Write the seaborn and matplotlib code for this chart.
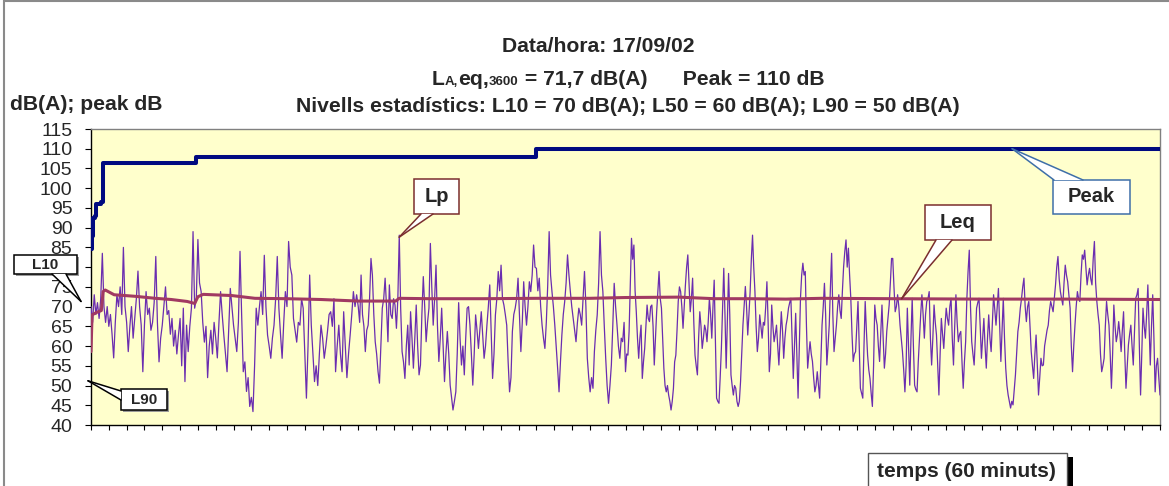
import numpy as np
import pandas as pd
import matplotlib
matplotlib.use("Agg")
import matplotlib.pyplot as plt
import seaborn as sns
from matplotlib.patches import Rectangle, Polygon
from matplotlib.lines import Line2D
from matplotlib.transforms import IdentityTransform

# ---------------- data ----------------
# Lp readings, one list per quarter hour (dB(A))
lp_q1 = [70, 66, 73, 68, 71, 67, 72, 83.5, 70, 66, 70, 65, 68, 63, 57, 66, 73, 70, 75, 68, 85, 70, 66, 58.6, 65,
         70, 62, 67, 72, 79, 70, 65.3, 53.5, 65.3, 73.8, 68, 69.6, 64, 66, 71, 82.7, 66, 56, 62, 65.3, 70, 75, 68,
         69, 63, 67, 60, 64, 58, 62.8, 67, 55, 69.6, 51, 65.3, 58.6, 65, 69.6, 89, 69.6, 72, 87, 76, 73.8, 66, 61,
         65, 52, 60, 64, 58, 66, 62, 57, 66, 73.8, 68, 62.8, 58, 53.5, 64, 74.6, 70, 65.3, 62, 58.6, 66, 84, 68,
         53.5, 56, 48.5, 52, 44.7, 47, 43.4, 55, 69.6, 65.3, 70, 73.8, 68, 83, 70, 62.8, 60, 56.9, 62, 65.3, 72,
         82.7, 69.6, 63, 56.9, 66, 73.8, 70, 86.5, 80, 78, 67, 64, 61, 66, 65.3, 72, 69.6, 58, 46.8, 60, 78, 65.3,
         58, 51, 55, 50, 58, 65.3, 62, 56.9, 60, 63.7, 68, 68.7, 65, 72, 53.5, 60, 65.3, 58, 53.5, 68.7, 60, 52, 58,
         62.8, 68, 73.8, 70, 73]
lp_q2 = [70, 66, 78, 68, 65, 58.6, 64, 65.3, 72, 82.2, 78, 68, 61.1, 58, 53.5, 50.6, 60, 69.6, 72, 77.2, 70, 61.1,
         75.5, 68, 67, 72, 70.4, 64.5, 72, 88.1, 69.6, 58.6, 56, 51.8, 60, 65.3, 55.2, 68.7, 62, 54.4, 62, 70.4, 60,
         52.7, 55.2, 68, 77.6, 70, 61.1, 66, 69.6, 86, 75, 65.3, 72, 80.5, 65.3, 56.1, 62, 69.6, 60, 51, 58, 63.7,
         58, 50.1, 47, 43.8, 46, 48.4, 58, 71, 62, 55.2, 60, 52.7, 62, 69.6, 70, 65.3, 58, 50.1, 58, 67.9, 64, 59.4,
         64, 68.7, 63, 56.9, 60, 65.3, 70, 75.5, 64, 51.8, 58, 67.9, 72, 78.9, 74, 80.5, 72, 70.4, 68, 65.3, 56,
         48.4, 52, 63.7, 68, 69.6, 72, 77.2, 68, 58.6, 66, 76.3, 70, 65.3, 70, 76.3, 73.8, 78, 85.6, 80, 79.7, 74,
         77.2, 70, 65.3, 62, 59.4, 66, 75.5, 89, 78, 73.8, 70, 65.3, 60, 54.4, 48.4, 56, 62.8, 68, 71.3, 76, 83.1,
         78, 73.8, 70, 67, 64, 61.1, 66, 69.6, 68, 65.3, 72, 78.9, 70, 56.9, 52, 48.4, 52, 49.3, 58.6, 64, 67.9, 76,
         89, 78, 73.8, 65, 56.9, 50, 45.5, 50, 55.2, 65, 75.9, 70, 65.3, 60, 56.9, 62, 61.1, 66]
lp_q3 = [53.5, 58, 57.7, 63.7, 75, 87.3, 82, 85.6, 74, 68.7, 62, 56.9, 62, 65.3, 51.8, 56, 59.4, 65, 70.4, 67, 66.2,
         70, 70.4, 65, 55.2, 62, 68.7, 74, 78.9, 72, 69.6, 62, 54.4, 50, 48.4, 50, 47.6, 46, 43.8, 46, 49.3, 56,
         57.7, 64, 71.3, 75, 73.8, 70, 64.5, 70, 75.5, 80, 83.1, 76, 68.7, 72, 77.2, 66, 57.7, 55, 52.7, 62, 68.7,
         65, 59.4, 62, 65.3, 64, 61.1, 66, 72.1, 68, 62, 70, 76.7, 62, 46.8, 46, 45.5, 52, 59.4, 70, 79.7, 68, 54.4,
         66, 78.4, 68, 52.7, 50, 47.6, 50, 49.3, 46, 44.7, 46, 51, 58, 65.3, 70, 75.1, 70, 62.8, 68, 73.8, 82, 88.1,
         80, 73.8, 65, 58.6, 62, 67.9, 65, 62, 66, 65.3, 70, 76.3, 66, 53.5, 58, 70.4, 65, 61.1, 63, 65.3, 60, 55.2,
         62, 68.7, 64, 56.9, 62, 65.3, 67, 69.6, 71, 72.1, 62, 51.8, 60, 68.3, 58, 46.8, 60, 72.1, 78, 81, 78, 78.9,
         65, 54.4, 58, 61.1, 58, 56.1, 52, 48.4, 50, 53.5, 50, 46.8, 56, 65.3, 70, 75.9, 68, 55.2, 60, 65.3, 75,
         83.5, 68, 58.6, 62, 65.3, 70, 73, 69, 67, 74, 80.1, 84, 86.9, 80, 84.8, 78, 72.1, 63, 56.1, 58, 58.6, 65,
         71.3, 60, 49.3, 48, 46.8, 60, 71.3, 64, 57.7, 54, 51.8, 48, 44.7, 55, 70.4, 67, 65.3, 60, 56.1, 63, 70.4,
         62, 54.4, 58, 63.7, 67, 70.4, 76, 82.2]
lp_q4 = [82.2, 75, 68.7, 70, 73, 70, 65.3, 62, 58.6, 54, 48.4, 55, 69.6, 60, 50.1, 62, 72.1, 60, 50.1, 49, 48.4, 56,
         62, 68, 73, 68, 62, 68, 71.3, 72, 73.8, 62, 55.2, 62, 70.4, 66, 62.8, 55, 47.6, 58, 67, 63, 59.4, 65, 69.6,
         67, 65.3, 70, 72.1, 62, 55.2, 65, 73, 66, 61.1, 63, 63.7, 56, 49.3, 56, 61.1, 72, 78.9, 84.3, 70, 61.1, 58,
         55.2, 62, 69.6, 71, 72.1, 65, 56.9, 62, 67, 60, 54.4, 62, 67.9, 62, 58.6, 66, 73, 69, 65.3, 70, 74.6, 65,
         56.1, 64, 72.1, 62, 54.4, 50, 47.6, 46, 44.3, 46, 45.1, 49, 52.7, 58, 63.7, 66, 69.6, 72, 75, 77.2, 70, 66.2,
         70, 71.3, 65, 58.6, 55, 51.8, 58, 62.8, 55, 47.6, 52, 56.9, 55, 55.2, 60, 62, 64, 65.3, 69, 71.3, 70, 68.7,
         72, 75.5, 80, 82.7, 77, 73.8, 72, 70.4, 76, 80.5, 78, 76.3, 73, 69.6, 60, 53.5, 60, 65.3, 70, 73.8, 72,
         71.3, 78, 83.1, 82, 84.3, 80, 75.5, 78, 79.7, 77, 75.5, 82, 86.5, 76, 71.3, 68, 65.3, 58, 53.5, 55, 56.9,
         65, 71.3, 68, 65.3, 58, 49.3, 58, 70.4, 65, 61.1, 63, 66.2, 63, 58.6, 64, 68.7, 58, 49.3, 55, 60.3, 63,
         65.3, 60, 55.2, 64, 72.1, 73, 74.6, 60, 47.6, 58, 69.6, 65, 62, 68, 75.5, 65, 55.2, 65, 73, 62, 48.4, 55,
         56.9, 52, 47.6]

# running Leq (minutes, dB(A))
leq_time = [0, 0.06, 0.3, 0.58, 0.68, 0.8, 1.3, 1.9, 2.5, 3.6, 4.5, 5.4, 5.82, 6.0, 6.3, 7.9, 9.2, 11, 12.9,
            15, 17.1, 17.3, 19, 22, 25, 28, 30, 33, 35, 37, 39, 41, 45, 50, 55, 60]
leq_db = [58.6, 67.9, 68.5, 69.0, 73.8, 74.2, 73.0, 72.8, 72.6, 72.1, 71.8, 71.3, 70.8, 72.5, 73.1, 72.8, 72.1,
          72.0, 71.8, 71.4, 71.4, 72.1, 72.0, 72.0, 72.1, 72.1, 72.3, 72.4, 72.0, 72.0, 71.9, 72.1, 72.0, 71.9,
          71.9, 71.8]

# running peak (minutes, dB) - step function
peak_time = [0, 0.05, 0.1, 0.2, 0.3, 0.55, 0.65, 5.9, 25.0, 60]
peak_db = [84.5, 88, 92.5, 93.0, 96.0, 96.5, 106.5, 108.0, 110.0, 110.0]

y_ticks = list(range(40, 116, 5))
x_minutes = list(range(0, 61))

title_1 = "Data/hora: 17/09/02"
title_3 = "Nivells estadístics: L10 = 70 dB(A); L50 = 60 dB(A); L90 = 50 dB(A)"

# ---------------- build frames ----------------
t_parts = []
for q, seg in enumerate([lp_q1, lp_q2, lp_q3, lp_q4]):
    t_parts.append(np.linspace(15 * q, 15 * (q + 1), len(seg), endpoint=(q == 3)))
df_lp = pd.DataFrame({"t": np.concatenate(t_parts), "dB": lp_q1 + lp_q2 + lp_q3 + lp_q4})
df_leq = pd.DataFrame({"t": leq_time, "dB": leq_db})
df_peak = pd.DataFrame({"t": peak_time, "dB": peak_db})

# ---------------- style ----------------
sns.set_style("white")
plt.rcParams["font.family"] = ["Liberation Sans", "DejaVu Sans"]

W, H = 1169, 486
fig = plt.figure(figsize=(W / 100, H / 100), dpi=100)
fig.patch.set_facecolor("white")
ax = fig.add_axes([91 / W, 1 - 425 / H, (1160 - 91) / W, (425 - 129) / H])
ax.set_facecolor("#FFFFCC")

LP_C = "#6A2DB0"
LEQ_C = "#A13A62"
PEAK_C = "#000A80"

sns.lineplot(data=df_lp, x="t", y="dB", ax=ax, color=LP_C, lw=0.9, estimator=None, zorder=3)
sns.lineplot(data=df_leq, x="t", y="dB", ax=ax, color=LEQ_C, lw=2.2, estimator=None, zorder=4)
sns.lineplot(data=df_peak, x="t", y="dB", ax=ax, color=PEAK_C, lw=2.9, estimator=None,
             drawstyle="steps-post", zorder=5)

ax.set_xlim(0, 60)
ax.set_ylim(40, 115)
ax.set_yticks(y_ticks)
ax.set_yticklabels([str(v) for v in y_ticks], fontsize=14)
# the "80" label sits under the L10 callout box in the reference
for lbl, v in zip(ax.get_yticklabels(), y_ticks):
    if v == 80:
        lbl.set_visible(False)
ax.set_xticks(x_minutes)
ax.set_xticklabels([])
ax.set_xlabel("")
ax.set_ylabel("")
ax.tick_params(axis="y", direction="out", length=4.5, width=0.8, color="black", pad=9, left=True)
ax.tick_params(axis="x", direction="out", length=3.5, width=0.8, color="black", bottom=True)
for s in ["left", "bottom"]:
    ax.spines[s].set_color("black")
    ax.spines[s].set_linewidth(1.0)
for s in ["top", "right"]:
    ax.spines[s].set_color("#808080")
    ax.spines[s].set_linewidth(1.0)
ax.grid(False)

# ---------------- titles ----------------
TFS = 15.2
fig.text(598 / W, 1 - 46 / H, title_1, ha="center", va="center", fontsize=TFS, fontweight="bold")
fig.text(628 / W, 1 - 106 / H, title_3, ha="center", va="center", fontsize=TFS, fontweight="bold")
fig.text(10 / W, 1 - 104 / H, "dB(A); peak dB", ha="left", va="center", fontsize=TFS, fontweight="bold")

# line 2 with small inline parts
pieces = [("L", TFS), ("A,", 9.5), ("eq,", TFS), ("3600", 9.5),
          (" = 71,7 dB(A)      Peak = 110 dB", TFS)]
texts = []
for i, (txt, fs) in enumerate(pieces):
    texts.append(fig.text(432 / W, 1 - 85 / H, txt, ha="left", va="baseline",
                          fontsize=fs, fontweight="bold"))
fig.canvas.draw()
renderer = fig.canvas.get_renderer()
x_cur = texts[0].get_window_extent(renderer).x1
y_base = texts[0].get_position()[1]
for t in texts[1:]:
    t.set_position((x_cur / W, y_base))
    x_cur = t.get_window_extent(renderer).x1

# ---------------- callouts ----------------
ID = IdentityTransform()


def P(x, ytop):
    return (x, H - ytop)


def callout(text, box, base, tip, ec, fs, lw=1.1, shadow=False):
    x0, y0, x1, y1 = box
    if shadow:
        fig.add_artist(Rectangle((x0 + 2, H - y1 - 2), x1 - x0, y1 - y0, transform=ID,
                                 fc="#9a9a9a", ec="none", zorder=9))
    fig.add_artist(Rectangle((x0, H - y1), x1 - x0, y1 - y0, transform=ID,
                             fc="white", ec=ec, lw=lw, zorder=10))
    tp = ax.transData.transform(tip)
    b1, b2 = P(*base[0]), P(*base[1])
    fig.add_artist(Polygon([b1, tuple(tp), b2], closed=True, transform=ID, fc="white", ec="none", zorder=11))
    for b in (b1, b2):
        fig.add_artist(Line2D([b[0], tp[0]], [b[1], tp[1]], transform=ID, color=ec, lw=lw, zorder=12))
    fig.text((x0 + x1) / 2 / W, 1 - (y0 + y1) / 2 / H, text, ha="center", va="center",
             fontsize=fs, fontweight="bold", zorder=13)


callout("L10", (14, 255, 77, 274), [(52, 274), (66, 274)], (-0.56, 71.3), "black", 11, shadow=True)
callout("L90", (121, 389, 167, 410), [(121, 391), (121, 400)], (-0.17, 51.2), "black", 11, shadow=True)
callout("Lp", (414, 179, 459, 214), [(421, 214), (433, 214)], (17.3, 87.6), "#7A2E2E", 14.5)
callout("Leq", (925, 205, 991, 240), [(936, 240), (952, 240)], (45.5, 72.0), "#7A2E2E", 14.5)
callout("Peak", (1053, 180, 1130, 214), [(1054, 180), (1083, 180)], (51.7, 110.0), "#3E6FA8", 14.5)

# x-axis label box
fig.add_artist(Rectangle((1067, 0), 6, H - 457, transform=ID, fc="black", ec="none", zorder=9))
fig.add_artist(Rectangle((868, -5), 1067 - 868, H - 453 + 5, transform=ID, fc="white",
                         ec="#555555", lw=1.0, zorder=10))
fig.text(966 / W, 1 - 471 / H, "temps (60 minuts)", ha="center", va="center", fontsize=15,
         fontweight="bold", zorder=13)

# outer frame
fig.add_artist(Line2D([4, 4], [0, H], transform=ID, color="#8a8a8a", lw=1.5, zorder=20))
fig.add_artist(Line2D([4, W], [H - 1, H - 1], transform=ID, color="#8a8a8a", lw=1.5, zorder=20))

fig.savefig("out.png", dpi=100)
